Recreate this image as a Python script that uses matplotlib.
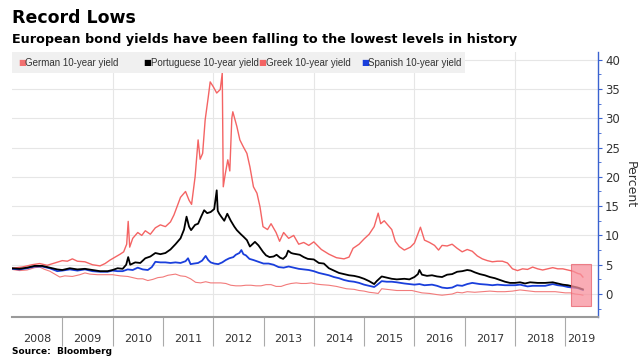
import matplotlib.pyplot as plt
from matplotlib.patches import Rectangle
from matplotlib.ticker import MultipleLocator, FixedLocator, NullFormatter

# Datos (año decimal, rendimiento %)
greek_t = [2008.0, 2008.2, 2008.4, 2008.55, 2008.7, 2008.85, 2009.0, 2009.1, 2009.2, 2009.3,
           2009.45, 2009.6, 2009.75, 2009.85, 2009.95, 2010.05, 2010.15, 2010.22, 2010.28, 2010.31,
           2010.34, 2010.4, 2010.5, 2010.58, 2010.65, 2010.75, 2010.85, 2010.95, 2011.05, 2011.15,
           2011.22, 2011.28, 2011.35, 2011.45, 2011.52, 2011.57, 2011.64, 2011.7, 2011.74, 2011.79,
           2011.84, 2011.9, 2011.94, 2012.0, 2012.07, 2012.14, 2012.18, 2012.2, 2012.24, 2012.29,
           2012.33, 2012.37, 2012.39, 2012.47, 2012.53, 2012.6, 2012.67, 2012.73, 2012.8, 2012.87,
           2012.93, 2012.99, 2013.08, 2013.15, 2013.25, 2013.32, 2013.4, 2013.5, 2013.6, 2013.7,
           2013.8, 2013.9, 2014.0, 2014.15, 2014.3, 2014.45, 2014.6, 2014.7, 2014.78, 2014.9,
           2015.0, 2015.1, 2015.2, 2015.28, 2015.33, 2015.4, 2015.47, 2015.55, 2015.62, 2015.7,
           2015.8, 2015.92, 2016.0, 2016.08, 2016.12, 2016.2, 2016.3, 2016.4, 2016.48, 2016.55,
           2016.65, 2016.75, 2016.85, 2016.95, 2017.05, 2017.15, 2017.25, 2017.35, 2017.45, 2017.55,
           2017.65, 2017.75, 2017.85, 2017.95, 2018.05, 2018.15, 2018.25, 2018.35, 2018.45, 2018.55,
           2018.65, 2018.75, 2018.85, 2018.95, 2019.05, 2019.15, 2019.25, 2019.3, 2019.35]
greek_y = [4.4, 4.6, 5.0, 5.2, 4.9, 5.3, 5.7, 5.6, 6.0, 5.6,
           5.5, 5.0, 4.8, 5.2, 5.8, 6.3, 6.8, 7.2, 8.5, 12.4,
           8.0, 9.5, 10.5, 10.0, 10.8, 10.2, 11.3, 11.8, 11.5, 12.3,
           13.5, 14.9, 16.5, 17.5, 16.0, 15.3, 20.0, 26.3, 23.0, 24.0,
           29.7, 33.5, 36.2, 35.4, 34.3, 34.9, 37.7, 18.3, 20.5, 22.9,
           21.0, 30.0, 31.1, 28.6, 26.3, 25.1, 24.0, 21.7, 18.3, 17.2,
           14.9, 11.5, 11.0, 12.0, 10.5, 9.0, 10.5, 9.5, 10.0, 8.5,
           8.8, 8.3, 8.9, 7.6, 6.8, 6.2, 6.0, 6.3, 7.8, 8.5,
           9.4, 10.2, 11.5, 13.8, 12.0, 12.5, 11.8, 11.0, 9.0, 8.1,
           7.5, 8.0, 8.7, 10.5, 11.4, 9.2, 8.8, 8.3, 7.5, 8.3,
           8.2, 8.5, 7.8, 7.2, 7.6, 7.3, 6.5, 6.0, 5.7, 5.5,
           5.6, 5.6, 5.3, 4.3, 4.0, 4.3, 4.2, 4.6, 4.3, 4.1,
           4.3, 4.5, 4.3, 4.3, 4.1, 3.9, 3.5, 3.4, 2.9]

port_t = [2008.0, 2008.15, 2008.3, 2008.45, 2008.6, 2008.75, 2008.9, 2009.0, 2009.15, 2009.3,
          2009.45, 2009.6, 2009.75, 2009.9, 2010.0, 2010.1, 2010.2, 2010.27, 2010.31, 2010.35,
          2010.45, 2010.55, 2010.65, 2010.75, 2010.85, 2010.95, 2011.05, 2011.15, 2011.25, 2011.35,
          2011.42, 2011.47, 2011.52, 2011.56, 2011.64, 2011.7, 2011.76, 2011.82, 2011.88, 2011.95,
          2012.02, 2012.07, 2012.09, 2012.12, 2012.16, 2012.22, 2012.28, 2012.35, 2012.42, 2012.47,
          2012.55, 2012.6, 2012.67, 2012.73, 2012.78, 2012.83, 2012.9, 2012.99, 2013.05, 2013.12,
          2013.2, 2013.26, 2013.33, 2013.39, 2013.45, 2013.49, 2013.55, 2013.59, 2013.72, 2013.8,
          2013.88, 2014.0, 2014.1, 2014.2, 2014.3, 2014.4, 2014.5, 2014.6, 2014.7, 2014.8,
          2014.9, 2015.0, 2015.1, 2015.2, 2015.25, 2015.35, 2015.45, 2015.55, 2015.65, 2015.8,
          2015.9, 2016.0, 2016.07, 2016.1, 2016.15, 2016.25, 2016.35, 2016.45, 2016.55, 2016.65,
          2016.75, 2016.85, 2016.95, 2017.05, 2017.12, 2017.2, 2017.3, 2017.4, 2017.5, 2017.6,
          2017.7, 2017.8, 2017.9, 2018.0, 2018.1, 2018.2, 2018.3, 2018.45, 2018.6, 2018.75,
          2018.85, 2018.95, 2019.05, 2019.15, 2019.25, 2019.35]
port_y = [4.4, 4.3, 4.5, 4.8, 4.8, 4.5, 4.2, 4.1, 4.4, 4.2,
          4.3, 4.1, 3.9, 3.9, 4.1, 4.4, 4.3, 5.0, 6.3, 5.0,
          5.4, 5.3, 6.1, 6.4, 7.0, 6.8, 7.0, 7.6, 8.5, 9.5,
          11.0, 13.2, 11.5, 10.9, 11.8, 12.0, 13.2, 14.3, 13.8, 14.0,
          14.5, 17.7, 14.2, 13.7, 13.2, 12.5, 13.7, 12.5, 11.5, 10.9,
          10.2, 9.8, 9.2, 8.1, 8.5, 8.9, 8.3, 7.2, 6.6, 6.3,
          6.4, 6.7, 6.2, 6.0, 6.5, 7.4, 7.0, 6.9, 6.7, 6.3,
          6.0, 5.9, 5.3, 5.2, 4.4, 4.0, 3.6, 3.4, 3.2, 3.1,
          2.9, 2.6, 2.2, 1.7, 2.2, 3.0, 2.8, 2.6, 2.5, 2.6,
          2.5, 2.9, 3.4, 4.1, 3.3, 3.1, 3.2, 3.0, 2.9, 3.3,
          3.4, 3.8, 3.9, 4.1, 4.0, 3.7, 3.4, 3.2, 2.9, 2.7,
          2.4, 2.1, 1.9, 1.9, 2.0, 1.8, 2.0, 1.9, 1.9, 2.0,
          1.8, 1.6, 1.5, 1.3, 1.1, 0.8]

spain_t = [2008.0, 2008.15, 2008.3, 2008.45, 2008.6, 2008.75, 2008.9, 2009.0, 2009.15, 2009.3,
           2009.45, 2009.6, 2009.75, 2009.9, 2010.0, 2010.1, 2010.2, 2010.3, 2010.4, 2010.5,
           2010.6, 2010.7, 2010.78, 2010.85, 2010.95, 2011.05, 2011.15, 2011.25, 2011.35, 2011.45,
           2011.5, 2011.55, 2011.62, 2011.7, 2011.78, 2011.85, 2011.9, 2011.95, 2012.02, 2012.1,
           2012.18, 2012.25, 2012.32, 2012.4, 2012.45, 2012.52, 2012.56, 2012.6, 2012.65, 2012.72,
           2012.8, 2012.9, 2013.0, 2013.1, 2013.2, 2013.3, 2013.4, 2013.5, 2013.6, 2013.7,
           2013.8, 2013.9, 2014.0, 2014.1, 2014.2, 2014.3, 2014.4, 2014.5, 2014.6, 2014.7,
           2014.8, 2014.9, 2015.0, 2015.1, 2015.2, 2015.25, 2015.35, 2015.45, 2015.55, 2015.65,
           2015.8, 2015.9, 2016.0, 2016.1, 2016.2, 2016.35, 2016.45, 2016.55, 2016.65, 2016.75,
           2016.85, 2016.95, 2017.05, 2017.15, 2017.3, 2017.45, 2017.55, 2017.65, 2017.8, 2017.9,
           2018.0, 2018.1, 2018.25, 2018.35, 2018.45, 2018.6, 2018.75, 2018.85, 2018.95, 2019.05,
           2019.15, 2019.25, 2019.35]
spain_y = [4.3, 4.2, 4.4, 4.7, 4.7, 4.4, 3.9, 4.0, 4.2, 4.0,
           4.2, 3.9, 3.8, 3.8, 4.0, 3.9, 3.9, 4.2, 4.1, 4.5,
           4.2, 4.1, 4.6, 5.5, 5.4, 5.4, 5.3, 5.4, 5.3, 5.6,
           6.1, 5.1, 5.2, 5.3, 5.7, 6.5, 5.8, 5.4, 5.2, 5.1,
           5.4, 5.8, 6.1, 6.3, 6.7, 7.0, 7.5, 6.8, 6.6, 6.0,
           5.8, 5.5, 5.2, 5.2, 5.0, 4.6, 4.5, 4.7, 4.5, 4.3,
           4.2, 4.1, 3.9, 3.6, 3.4, 3.2, 2.9, 2.7, 2.4, 2.2,
           2.1, 1.9, 1.6, 1.4, 1.2, 1.5, 2.2, 2.1, 2.1, 2.0,
           1.8, 1.7, 1.6, 1.7, 1.5, 1.6, 1.4, 1.1, 1.0, 1.1,
           1.5, 1.4, 1.7, 1.9, 1.7, 1.6, 1.5, 1.6, 1.5, 1.5,
           1.5, 1.6, 1.3, 1.4, 1.4, 1.4, 1.7, 1.5, 1.4, 1.2,
           1.1, 1.0, 0.7]

german_t = [2008.0, 2008.15, 2008.3, 2008.45, 2008.55, 2008.65, 2008.75, 2008.85, 2008.95, 2009.05,
            2009.2, 2009.35, 2009.45, 2009.55, 2009.7, 2009.85, 2010.0, 2010.15, 2010.3, 2010.4,
            2010.5, 2010.6, 2010.7, 2010.8, 2010.9, 2011.0, 2011.1, 2011.25, 2011.35, 2011.45,
            2011.55, 2011.65, 2011.75, 2011.85, 2011.95, 2012.05, 2012.15, 2012.25, 2012.35, 2012.45,
            2012.55, 2012.65, 2012.75, 2012.85, 2012.95, 2013.05, 2013.15, 2013.25, 2013.35, 2013.45,
            2013.55, 2013.65, 2013.75, 2013.85, 2013.95, 2014.05, 2014.15, 2014.3, 2014.45, 2014.55,
            2014.65, 2014.8, 2014.9, 2015.0, 2015.1, 2015.2, 2015.28, 2015.35, 2015.45, 2015.55,
            2015.65, 2015.75, 2015.85, 2015.95, 2016.05, 2016.15, 2016.3, 2016.45, 2016.55, 2016.65,
            2016.75, 2016.85, 2016.95, 2017.05, 2017.2, 2017.35, 2017.5, 2017.65, 2017.8, 2017.95,
            2018.1, 2018.2, 2018.3, 2018.4, 2018.55, 2018.7, 2018.8, 2018.9, 2019.0, 2019.1,
            2019.2, 2019.3, 2019.35]
german_y = [4.2, 4.0, 4.1, 4.5, 4.6, 4.2, 3.9, 3.4, 2.9, 3.1,
            3.0, 3.3, 3.6, 3.4, 3.3, 3.3, 3.3, 3.1, 3.0, 2.8,
            2.6, 2.6, 2.3, 2.5, 2.8, 2.9, 3.2, 3.4, 3.1, 3.0,
            2.6, 2.0, 1.9, 2.1, 1.9, 1.9, 1.9, 1.8, 1.5, 1.4,
            1.4, 1.5, 1.5, 1.4, 1.4, 1.6, 1.6, 1.3, 1.3, 1.6,
            1.8, 1.9, 1.8, 1.8, 1.9, 1.7, 1.6, 1.5, 1.3, 1.1,
            0.9, 0.8, 0.6, 0.5, 0.3, 0.2, 0.1, 0.9, 0.8, 0.7,
            0.6, 0.6, 0.6, 0.6, 0.4, 0.2, 0.1, -0.1, -0.2, -0.1,
            0.0, 0.3, 0.2, 0.4, 0.3, 0.4, 0.5, 0.4, 0.4, 0.5,
            0.7, 0.6, 0.5, 0.4, 0.4, 0.4, 0.4, 0.3, 0.2, 0.2,
            0.0, -0.1, -0.2]

years = list(range(2008, 2020))
x_min, x_max = 2008.0, 2019.65

fig = plt.figure(figsize=(6.41, 3.64), dpi=100)
W, H = 641, 364
ax = fig.add_axes([12 / W, 1 - 317 / H, (598 - 12) / W, (317 - 52) / H])

ax.plot(german_t, german_y, color="#f27b7b", lw=0.8, zorder=3)
ax.plot(greek_t, greek_y, color="#f46464", lw=1.0, zorder=3)
ax.plot(spain_t, spain_y, color="#1a3fdc", lw=1.3, zorder=4)
ax.plot(port_t, port_y, color="black", lw=1.3, zorder=4)

# recuadro rosa al final
ax.add_patch(Rectangle((2019.12, -2.0), 0.39, 7.2, facecolor="#f7909c", edgecolor="#e8606b",
                       lw=0.8, alpha=0.75, zorder=5))

ax.set_xlim(x_min, x_max)
ax.set_ylim(-3.92, 41.3)

# rejilla
for v in range(0, 45, 5):
    ax.axhline(v, color="#e6e6e6", lw=0.8, zorder=1)
for yr in range(2010, 2019, 2):
    ax.axvline(yr, color="#e6e6e6", lw=0.8, zorder=1)

for s in ["left", "top"]:
    ax.spines[s].set_visible(False)
ax.spines["right"].set_color("#3a62d0")
ax.spines["right"].set_linewidth(1.0)
ax.spines["bottom"].set_color("#9a9a9a")
ax.spines["bottom"].set_linewidth(1.5)

ax.yaxis.tick_right()
ax.yaxis.set_major_locator(MultipleLocator(5))
ax.yaxis.set_minor_locator(MultipleLocator(2.5))
ax.tick_params(axis="y", which="major", length=3, color="#3a62d0", labelsize=8.5,
               labelcolor="#333333", pad=2)
ax.tick_params(axis="y", which="minor", length=2, color="#3a62d0")
ax.set_yticks(range(0, 45, 5))
ax.set_ylabel("Percent", rotation=270, fontsize=9, color="#333333", labelpad=12)
ax.yaxis.set_label_position("right")

# separadores de año y etiquetas
ax.xaxis.set_major_locator(FixedLocator(years[1:]))
ax.xaxis.set_major_formatter(NullFormatter())
label_pos = [y + 0.5 for y in years[:-1]] + [(2019 + x_max) / 2]
ax.xaxis.set_minor_locator(FixedLocator(label_pos))
ax.set_xticklabels([str(y) for y in years], minor=True)
ax.tick_params(axis="x", which="major", length=21, width=0.8, color="#aaaaaa")
ax.tick_params(axis="x", which="minor", length=0, labelsize=8, labelcolor="#333333", pad=12)

# leyenda en caja gris
fig.patches.append(Rectangle((12 / W, 1 - 73 / H), (465 - 12) / W, 21 / H,
                             transform=fig.transFigure, facecolor="#f0f0f0",
                             edgecolor="none", zorder=0))
legend_items = [("German 10-year yield", "#f27070", 18, 25),
                ("Portuguese 10-year yield", "black", 143, 151),
                ("Greek 10-year yield", "#f46464", 258, 266),
                ("Spanish 10-year yield", "#1a3fdc", 361, 368)]
for label, col, xs, xt in legend_items:
    fig.text(xs / W, 1 - 62.5 / H, "■", color=col, fontsize=6, va="center")
    fig.text(xt / W, 1 - 62.5 / H, label, color="#333333", fontsize=7,
             family="Liberation Sans", va="center")

fig.text(12 / W, 1 - 18 / H, "Record Lows", fontsize=12.5, fontweight="bold", va="center")
fig.text(12 / W, 1 - 40 / H, "European bond yields have been falling to the lowest levels in history",
         fontsize=9.2, fontweight="bold", va="center")
fig.text(12 / W, 1 - 352 / H, "Source:  Bloomberg", fontsize=6.5, fontweight="bold", va="center")

fig.savefig("out.png", dpi=100)
